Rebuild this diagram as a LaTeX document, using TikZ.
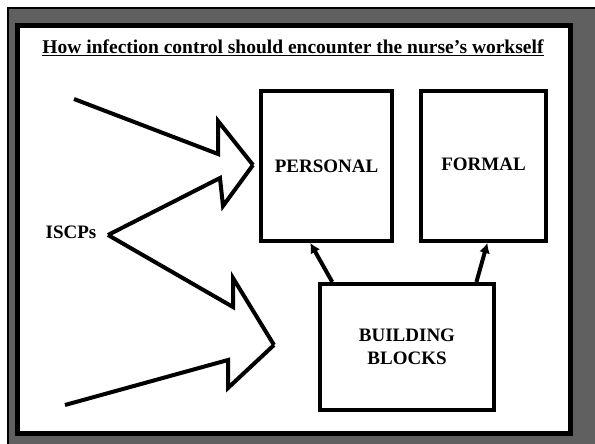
\documentclass[tikz,border=0pt]{standalone}
\usepackage{fontspec}
\setmainfont{Liberation Serif}
\usetikzlibrary{arrows.meta, positioning, calc}
\definecolor{slidegray}{HTML}{606060}
\tikzset{
  >=Latex,
  font=\bfseries,
  box/.style={
    draw=black, fill=white, line width=4pt, inner sep=0pt, align=center,
    font=\fontsize{19}{23}\selectfont\bfseries
  },
  lab/.style={inner sep=2pt, font=\fontsize{19}{23}\selectfont\bfseries},
  feed/.style={line width=4pt, draw=black},
  lift/.style={-{Latex[length=10pt,width=11pt]}, line width=4pt, draw=black}
}
\begin{document}
\begin{tikzpicture}[x=1pt, y=-1pt]
  \useasboundingbox (0,0) rectangle (595,444);
  \fill[white] (0,0) rectangle (595,444);
  \filldraw[fill=slidegray, draw=black, line width=2pt] (8,8) rectangle (600,450);
  \filldraw[fill=white, draw=black, line width=5pt] (17.5,25.5) rectangle (570.5,433.5);
  \node[font=\fontsize{19.5}{23}\selectfont\bfseries] (title) at (293,48)
    {\underline{How infection control should encounter the nurse’s workself}};
  \node[box, minimum width=131pt, minimum height=150pt] (personal) at (326.5,166) {PERSONAL};
  \node[box, minimum width=125pt, minimum height=150pt] (formal) at (483.5,166) {\raisebox{3pt}{FORMAL}};
  \node[box, minimum width=174pt, minimum height=126pt] (blocks) at (407,347) {BUILDING\\BLOCKS};
  \node[lab] (iscps) at (71,232) {ISCPs};
  \coordinate (fork) at (108,235);
  \coordinate (srcA) at (74,99);
  \coordinate (srcB) at (65,405);
  \coordinate (tipP) at (253,165);
  \coordinate (tipB) at (274,345);
  \draw[feed] (srcA) -- (218,154) -- (218,121) -- (tipP);
  \draw[feed] (fork) -- (220,178) -- (223,206) -- (tipP);
  \draw[feed] (fork) -- (233,307) -- (233,278) -- (tipB);
  \draw[feed] (srcB) -- (228,360) -- (228,388) -- (tipB);
  \draw[lift] ($(blocks.north west)!0.08!(blocks.north east)$) -- ($(personal.south west)!0.38!(personal.south east)$);
  \draw[lift] ($(blocks.north west)!0.89!(blocks.north east)$) -- ($(formal.south west)!0.53!(formal.south east)$);
\end{tikzpicture}
\end{document}
